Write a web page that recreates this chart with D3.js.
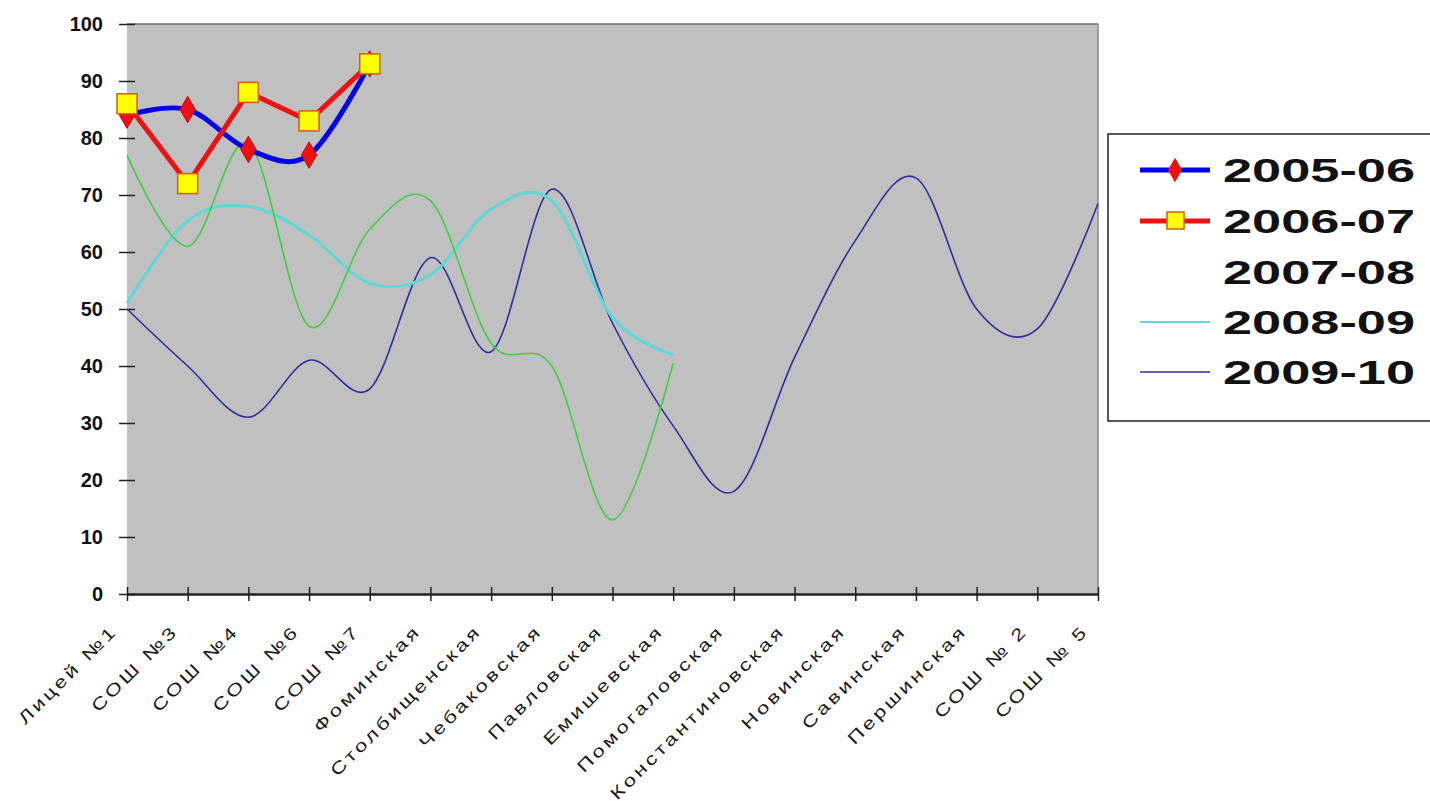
<!DOCTYPE html>
<html>
<head>
<meta charset="utf-8">
<script src="https://cdn.jsdelivr.net/npm/d3@7"></script>
<style>
  html, body { margin: 0; padding: 0; background: #ffffff; }
  svg { display: block; }
</style>
</head>
<body>
<svg id="chart" width="1430" height="807"></svg>
<script>
const categories = ["Лицей №1","СОШ №3","СОШ №4","СОШ №6","СОШ №7","Фоминская","Столбищенская","Чебаковская","Павловская","Емишевская","Помогаловская","Константиновская","Новинская","Савинская","Першинская","СОШ № 2","СОШ № 5"];
const seriesNames = ["2005-06","2006-07","2007-08","2008-09","2009-10"];
const values2005 = [84, 85, 78, 77, 93];
const values2006 = [86, 72, 88, 83, 93];
const values2007 = [77, 61, 79, 47, 64, 69, 44, 40, 13, 40.5];
const values2008 = [51, 65.5, 68, 63, 54.5, 56, 67.5, 69, 48.5, 42];
const values2009 = [50, 40, 31, 41, 36, 59, 42.5, 71, 47.5, 29.5, 18, 41.5, 62, 73, 50, 46.5, 68.5];
const yTicks = [0, 10, 20, 30, 40, 50, 60, 70, 80, 90, 100];

const svg = d3.select("#chart");
const plotL = 127, plotR = 1098, plotT = 24, plotB = 594;

const x = d3.scalePoint().domain(categories).range([plotL, plotR]);
const y = d3.scaleLinear().domain([0, 100]).range([plotB, plotT]);

// plot area
svg.append("rect").attr("x", plotL).attr("y", plotT).attr("width", plotR - plotL).attr("height", plotB - plotT)
  .attr("fill", "#c0c0c0");
svg.append("line").attr("x1", plotL).attr("x2", plotR).attr("y1", plotT).attr("y2", plotT)
  .attr("stroke", "#6e6e6e").attr("stroke-width", 1.5);
svg.append("line").attr("x1", plotR).attr("x2", plotR).attr("y1", plotT).attr("y2", plotB)
  .attr("stroke", "#8a8a8a").attr("stroke-width", 1.5);

// y axis
const yAxis = d3.axisLeft(y).tickValues(yTicks).tickSize(0).tickPadding(24);
const gy = svg.append("g").attr("transform", `translate(${plotL},0)`).call(yAxis);
gy.select(".domain").remove();
gy.selectAll("text").attr("font-family", "Liberation Sans, Arial, sans-serif")
  .attr("font-size", 20).attr("font-weight", "bold").attr("fill", "#111");
gy.selectAll(".tick").append("line").attr("x1", -8).attr("x2", 8).attr("stroke", "#222").attr("stroke-width", 1.5);

// x axis
const xAxis = d3.axisBottom(x).tickSize(0).tickFormat("");
const gx = svg.append("g").attr("transform", `translate(0,${plotB})`).call(xAxis);
gx.select(".domain").attr("stroke", "#222").attr("stroke-width", 2.5);
gx.selectAll(".tick").append("line").attr("y1", -7).attr("y2", 7).attr("stroke", "#222").attr("stroke-width", 1.5);
gx.selectAll(".tick").append("text")
  .attr("text-anchor", "end")
  .attr("transform", "translate(-9,38) rotate(-45) scale(1.3,1)")
  .attr("font-family", "Liberation Sans, Arial, sans-serif")
  .attr("font-size", 17)
  .attr("letter-spacing", "2.5px")
  .attr("fill", "#1a1a1a")
  .text(d => d);

const toPts = arr => arr.map((v, i) => [x(categories[i]), y(v)]);
const smooth = d3.line().curve(d3.curveCatmullRom.alpha(0));
const straight = d3.line();

// thin series first
svg.append("path").attr("d", smooth(toPts(values2009))).attr("fill", "none")
  .attr("stroke", "#2e2e9e").attr("stroke-width", 1.6);
svg.append("path").attr("d", smooth(toPts(values2008))).attr("fill", "none")
  .attr("stroke", "#5fd8d8").attr("stroke-width", 3);
svg.append("path").attr("d", smooth(toPts(values2007))).attr("fill", "none")
  .attr("stroke", "#3fcf3f").attr("stroke-width", 1.6);

// 2005-06
svg.append("path").attr("d", smooth(toPts(values2005))).attr("fill", "none")
  .attr("stroke", "#0000ee").attr("stroke-width", 5);
const diamond = d3.symbol().type(d3.symbolDiamond).size(200);
svg.append("g").selectAll("path").data(toPts(values2005)).join("path")
  .attr("d", diamond).attr("transform", d => `translate(${d[0]},${d[1]})`)
  .attr("fill", "#ee1111").attr("stroke", "#cc0000").attr("stroke-width", 1);

// 2006-07
svg.append("path").attr("d", straight(toPts(values2006))).attr("fill", "none")
  .attr("stroke", "#ee1111").attr("stroke-width", 5).attr("stroke-linejoin", "round");
svg.append("g").selectAll("rect").data(toPts(values2006)).join("rect")
  .attr("x", d => d[0] - 10).attr("y", d => d[1] - 10).attr("width", 20).attr("height", 20)
  .attr("fill", "#ffff00").attr("stroke", "#d06010").attr("stroke-width", 1.5);

// legend
const lg = svg.append("g");
lg.append("rect").attr("x", 1108).attr("y", 134).attr("width", 340).attr("height", 287)
  .attr("fill", "#ffffff").attr("stroke", "#222").attr("stroke-width", 1.5);
const rowsY = [170, 221, 272, 322, 372];
const legendStyles = [
  {stroke: "#0000ee", w: 5, marker: "diamond"},
  {stroke: "#ee1111", w: 5, marker: "square"},
  {stroke: "#ffffff", w: 1.5, marker: null},
  {stroke: "#5fd8d8", w: 2, marker: null},
  {stroke: "#2e2e9e", w: 1.5, marker: null}
];
seriesNames.forEach((name, i) => {
  const cy = rowsY[i], st = legendStyles[i];
  lg.append("line").attr("x1", 1140).attr("x2", 1210).attr("y1", cy).attr("y2", cy)
    .attr("stroke", st.stroke).attr("stroke-width", st.w);
  if (st.marker === "diamond") {
    lg.append("path").attr("d", d3.symbol().type(d3.symbolDiamond).size(170)())
      .attr("transform", `translate(1175,${cy})`).attr("fill", "#ee1111");
  } else if (st.marker === "square") {
    lg.append("rect").attr("x", 1167).attr("y", cy - 9).attr("width", 17).attr("height", 17)
      .attr("fill", "#ffff00").attr("stroke", "#d06010").attr("stroke-width", 1.5);
  }
  lg.append("text").attr("x", 1223).attr("y", cy + 12)
    .attr("font-family", "Liberation Sans, Arial, sans-serif")
    .attr("font-size", 34).attr("font-weight", "bold").attr("fill", "#111")
    .attr("textLength", 192).attr("lengthAdjust", "spacingAndGlyphs")
    .text(name);
});
</script>
</body>
</html>
